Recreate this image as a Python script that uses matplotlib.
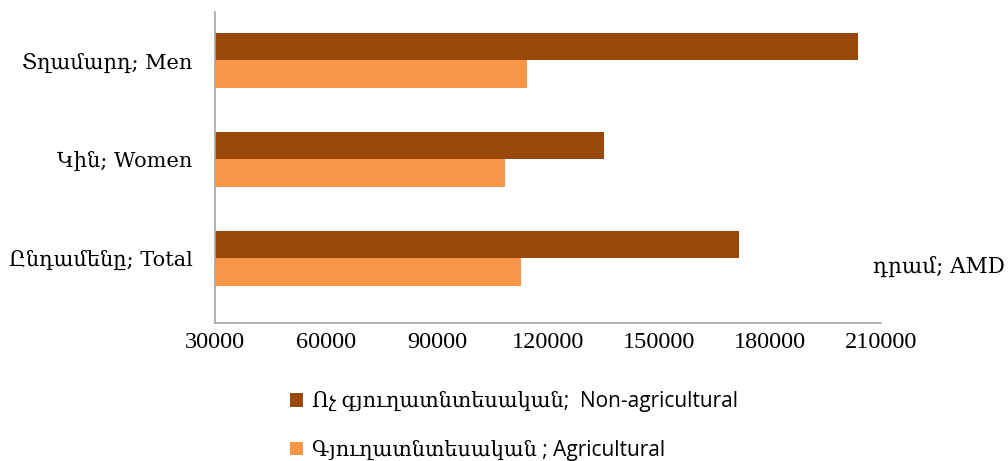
import matplotlib.pyplot as plt
import matplotlib as mpl
import numpy as np

categories = ["Ընդամենը; Total", "Կին; Women", "Տղամարդ; Men"]
non_agri = [171500, 135200, 203700]
agri = [112600, 108500, 114400]
series_labels = ["Ոչ գյուղատնտեսական;  Non-agricultural",
                 "Գյուղատնտեսական ; Agricultural"]
xticks = [30000, 60000, 90000, 120000, 150000, 180000, 210000]

C_NON = "#984807"
C_AGR = "#F79646"
SERIF = ["DejaVu Serif", "DejaVu Sans"]
SANS = ["Open Sans", "DejaVu Serif", "DejaVu Sans"]

mpl.rcParams["font.family"] = SERIF

fig = plt.figure(figsize=(10.08, 4.61), dpi=100)
ax = fig.add_axes([215 / 1008, 1 - 322.5 / 461, 666 / 1008, 310.5 / 461])

y = np.arange(len(categories))
h = 0.28
ax.barh(y + h / 2, non_agri, height=h, color=C_NON, label=series_labels[0])
ax.barh(y - h / 2, agri, height=h, color=C_AGR, label=series_labels[1])

ax.set_xlim(30000, 210000)
ax.set_ylim(-0.65, 2.49)
ax.set_xticks(xticks)
ax.set_xticklabels([str(v) for v in xticks], family=["Liberation Serif"], fontsize=17.5)
ax.set_yticks(y)
ax.set_yticklabels(categories, fontsize=15)
ax.tick_params(axis="both", length=0)
ax.tick_params(axis="x", pad=7)
ax.tick_params(axis="y", pad=16)

for s in ["top", "right"]:
    ax.spines[s].set_visible(False)
for s in ["left", "bottom"]:
    ax.spines[s].set_color("#A6A6A6")
    ax.spines[s].set_linewidth(1.2)

fig.text(1005 / 1008, 1 - 267 / 461, "դրամ; AMD", ha="right", va="center",
         fontsize=15.5, family=SERIF)

leg = fig.legend(loc="upper left", bbox_to_anchor=(282 / 1008, 1 - 383 / 461),
                 frameon=False, prop={"family": SANS, "size": 15},
                 handlelength=0.62, handleheight=0.62, handletextpad=0.4,
                 labelspacing=1.33, borderaxespad=0)

fig.savefig("out.png", dpi=100)
